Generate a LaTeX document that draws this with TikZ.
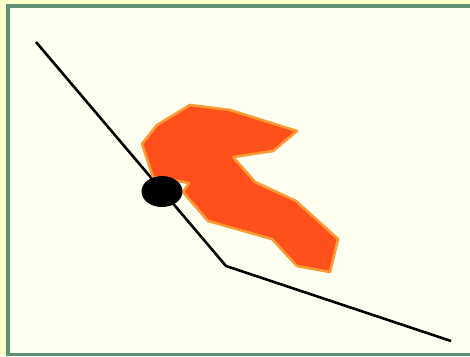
\documentclass[tikz,border=0pt]{standalone}
\usetikzlibrary{shapes.geometric}
\definecolor{outerbg}{HTML}{FFFFCC}
\definecolor{framegreen}{HTML}{5F8F73}
\definecolor{innerbg}{HTML}{FFFFF2}
\definecolor{blobfill}{HTML}{FF4F1A}
\definecolor{blobedge}{HTML}{FF9933}
\tikzset{
  slope/.style={draw=black, line width=2.6pt, line join=miter},
  blob/.style={fill=blobfill, draw=blobedge, line width=2.6pt, line join=round},
  ball/.style={fill=black, draw=none}
}
\begin{document}
\begin{tikzpicture}[x=1pt,y=-1pt]
\useasboundingbox (0,0) rectangle (470,356);
\fill[outerbg] (0,0) rectangle (470,356);
\fill[framegreen] (6,3.5) rectangle (475,356);
\fill[innerbg] (10,7.5) rectangle (475,352.5);
% slope
\coordinate (top) at (36,42);
\coordinate (knee) at (226,266);
\coordinate (end) at (451,341);
\draw[slope] (top) -- (knee) -- (end);
% blob
\draw[blob] (190,105) -- (230,110) -- (297,131) -- (273,151) -- (233,157)
  -- (255,182) -- (296,201) -- (338,239) -- (330,272) -- (297,266)
  -- (272,239) -- (208,221) -- (183,192) -- (189,183) -- (178,181)
  -- (153,177) -- (142,144) -- (157,125) -- cycle;
% ball
\node[ball, ellipse, minimum width=41pt, minimum height=31pt, inner sep=0pt] (b) at (162,191.5) {};
\end{tikzpicture}
\end{document}
